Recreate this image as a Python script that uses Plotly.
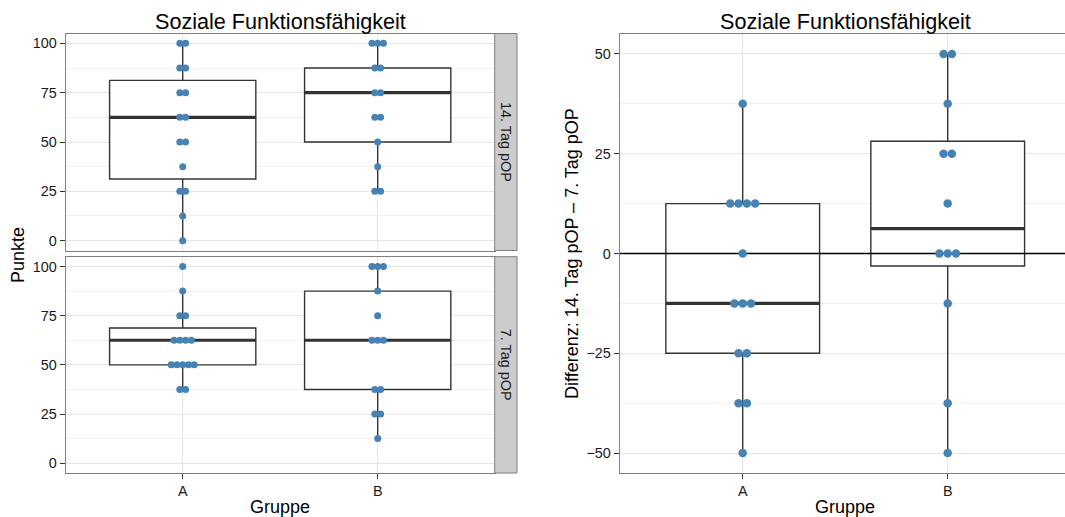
import numpy as np
import plotly.graph_objects as go
from collections import Counter

# ---- data: scores per patient (Soziale Funktionsfähigkeit) ----
groups = ["A", "B"]
tag14_A = [100, 100, 87.5, 87.5, 75, 75, 62.5, 62.5, 50, 50, 37.5, 25, 25, 12.5, 0]
tag14_B = [100, 100, 100, 87.5, 87.5, 75, 75, 62.5, 62.5, 50, 37.5, 25, 25]
tag7_A = [100, 87.5, 75, 75, 62.5, 62.5, 62.5, 62.5, 50, 50, 50, 50, 50, 37.5, 37.5]
tag7_B = [100, 100, 100, 87.5, 75, 62.5, 62.5, 62.5, 37.5, 37.5, 25, 25, 12.5]
diff_A = [37.5, 12.5, 12.5, 12.5, 12.5, 0, -12.5, -12.5, -12.5, -25, -25, -37.5, -37.5, -50]
diff_B = [50, 50, 37.5, 25, 25, 12.5, 0, 0, 0, -12.5, -37.5, -50]

facet_labels = ["14. Tag pOP", "7. Tag pOP"]
title_text = "Soziale Funktionsfähigkeit"
left_ylabel = "Punkte"
right_ylabel = "Differenz: 14. Tag pOP – 7. Tag pOP"
xlabel = "Gruppe"
left_ticks = [0, 25, 50, 75, 100]
right_ticks = [-50, -25, 0, 25, 50]

# ---- page geometry ----
W, H = 1065, 517
FONT = "Liberation Sans, Arial, sans-serif"
BOX_LINE = "#333333"
DOT = "#4682B4"
BORDER = "#7F7F7F"


def px(x):
    return x / W


def py(y):
    return 1 - y / H


def box_stats(values):
    v = np.asarray(values, float)
    q1, med, q3 = np.percentile(v, [25, 50, 75])
    iqr = q3 - q1
    lo = v[v >= q1 - 1.5 * iqr].min()
    hi = v[v <= q3 + 1.5 * iqr].max()
    return q1, med, q3, lo, hi


def dot_positions(values, xc, step):
    xs, ys = [], []
    counts = Counter(values)
    for val, k in counts.items():
        for i in range(k):
            xs.append(xc + (i - (k - 1) / 2) * step)
            ys.append(val)
    return xs, ys


fig = go.Figure()


def add_panel(series, xa, ya, step, size, zero_line=False):
    stats = [box_stats(s) for s in series]
    pos = [1, 2]
    fig.add_trace(go.Box(
        x=pos, q1=[s[0] for s in stats], median=[s[1] for s in stats],
        q3=[s[2] for s in stats], lowerfence=[s[3] for s in stats],
        upperfence=[s[4] for s in stats], orientation="v",
        width=0.75, whiskerwidth=0, boxpoints=False, fillcolor="white",
        line=dict(color=BOX_LINE, width=1.4), xaxis=xa, yaxis=ya,
        showlegend=False, hoverinfo="skip"))
    mx, my = [], []
    for p, s in zip(pos, stats):
        mx += [p - 0.375, p + 0.375, None]
        my += [s[1], s[1], None]
    fig.add_trace(go.Scatter(x=mx, y=my, mode="lines",
                             line=dict(color=BOX_LINE, width=3.2),
                             xaxis=xa, yaxis=ya, showlegend=False, hoverinfo="skip"))
    if zero_line:
        fig.add_trace(go.Scatter(x=[0, 3], y=[0, 0], mode="lines",
                                 line=dict(color="black", width=1.3),
                                 xaxis=xa, yaxis=ya, showlegend=False, hoverinfo="skip"))
    dx, dy = [], []
    for p, s in zip(pos, series):
        a, b = dot_positions(s, p, step)
        dx += a
        dy += b
    fig.add_trace(go.Scatter(x=dx, y=dy, mode="markers",
                             marker=dict(color=DOT, size=size, line=dict(width=0)),
                             xaxis=xa, yaxis=ya, showlegend=False, hoverinfo="skip"))


add_panel([tag7_A, tag7_B], "x", "y", 0.0295, 7)
add_panel([tag14_A, tag14_B], "x2", "y2", 0.0295, 7)
add_panel([diff_A, diff_B], "x3", "y3", 0.0405, 8.5, zero_line=True)

tickfont = dict(family=FONT, size=14.4, color="#1a1a1a")
axis_common = dict(showline=True, linecolor=BORDER, linewidth=1, mirror=True,
                   showgrid=True, gridcolor="#E5E5E5", gridwidth=1, zeroline=False,
                   ticks="outside", ticklen=5, tickcolor="#333333", tickwidth=1,
                   tickfont=tickfont, fixedrange=True)

# panel pixel boxes
L_X0, L_X1 = 65.7, 494.7
TOP_Y0, TOP_Y1 = 33.5, 250.5
BOT_Y0, BOT_Y1 = 256.7, 473.0
R_X0 = 619.7
R_UNIT = 205.0
R_Y0, R_Y1 = 34.0, 473.0

xcat = dict(tickvals=[1, 2], ticktext=groups)
left_y = dict(range=[-5, 105], tickvals=left_ticks,
              minor=dict(tickvals=[12.5, 37.5, 62.5, 87.5], showgrid=True,
                         gridcolor="#F0F0F0", ticks=""))
right_y = dict(range=[-55, 55], tickvals=right_ticks,
               minor=dict(tickvals=[-37.5, -12.5, 12.5, 37.5], showgrid=True,
                          gridcolor="#F0F0F0", ticks=""))

fig.update_layout(
    width=W, height=H, margin=dict(l=0, r=0, t=0, b=0),
    paper_bgcolor="white", plot_bgcolor="white", hovermode=False,
    xaxis=dict(axis_common, **xcat, range=[0.4, 2.6], domain=[px(L_X0), px(L_X1)], anchor="y"),
    yaxis=dict(axis_common, **left_y, domain=[py(BOT_Y1), py(BOT_Y0)], anchor="x"),
    xaxis2=dict(axis_common, **xcat, range=[0.4, 2.6], domain=[px(L_X0), px(L_X1)],
                anchor="y2", showticklabels=False, ticks=""),
    yaxis2=dict(axis_common, **left_y, domain=[py(TOP_Y1), py(TOP_Y0)], anchor="x2"),
    xaxis3=dict(axis_common, **xcat, range=[0.4, 0.4 + (W - R_X0) / R_UNIT],
                domain=[px(R_X0), 1.0], anchor="y3"),
    yaxis3=dict(axis_common, **right_y, mirror=False, domain=[py(R_Y1), py(R_Y0)], anchor="x3"),
)

# facet strips
shapes = []
annotations = []
for (y0, y1), lab in zip([(TOP_Y0, TOP_Y1), (BOT_Y0, BOT_Y1)], facet_labels):
    shapes.append(dict(type="rect", xref="paper", yref="paper",
                       x0=px(L_X1), x1=px(517), y0=py(y1), y1=py(y0),
                       fillcolor="#CCCCCC", line=dict(color=BORDER, width=1), layer="above"))
    annotations.append(dict(text=lab, xref="paper", yref="paper",
                            x=px(506), y=py((y0 + y1) / 2), showarrow=False,
                            textangle=90, xanchor="center", yanchor="middle",
                            font=dict(family=FONT, size=14.4, color="#1a1a1a")))

title_font = dict(family=FONT, size=21.6, color="black")
label_font = dict(family=FONT, size=18, color="black")
for xc in [(L_X0 + L_X1) / 2, R_X0 + 1.1 * R_UNIT]:
    annotations.append(dict(text=title_text, xref="paper", yref="paper", x=px(xc), y=py(21),
                            showarrow=False, xanchor="center", yanchor="middle", font=title_font))
    annotations.append(dict(text=xlabel, xref="paper", yref="paper", x=px(xc), y=py(507),
                            showarrow=False, xanchor="center", yanchor="middle", font=label_font))
annotations.append(dict(text=left_ylabel, xref="paper", yref="paper", x=px(18), y=py(255),
                        showarrow=False, textangle=-90, xanchor="center", yanchor="middle",
                        font=label_font))
annotations.append(dict(text=right_ylabel, xref="paper", yref="paper", x=px(572), y=py(254),
                        showarrow=False, textangle=-90, xanchor="center", yanchor="middle",
                        font=label_font))

fig.update_layout(shapes=shapes, annotations=annotations)
fig.write_html("out.html")
